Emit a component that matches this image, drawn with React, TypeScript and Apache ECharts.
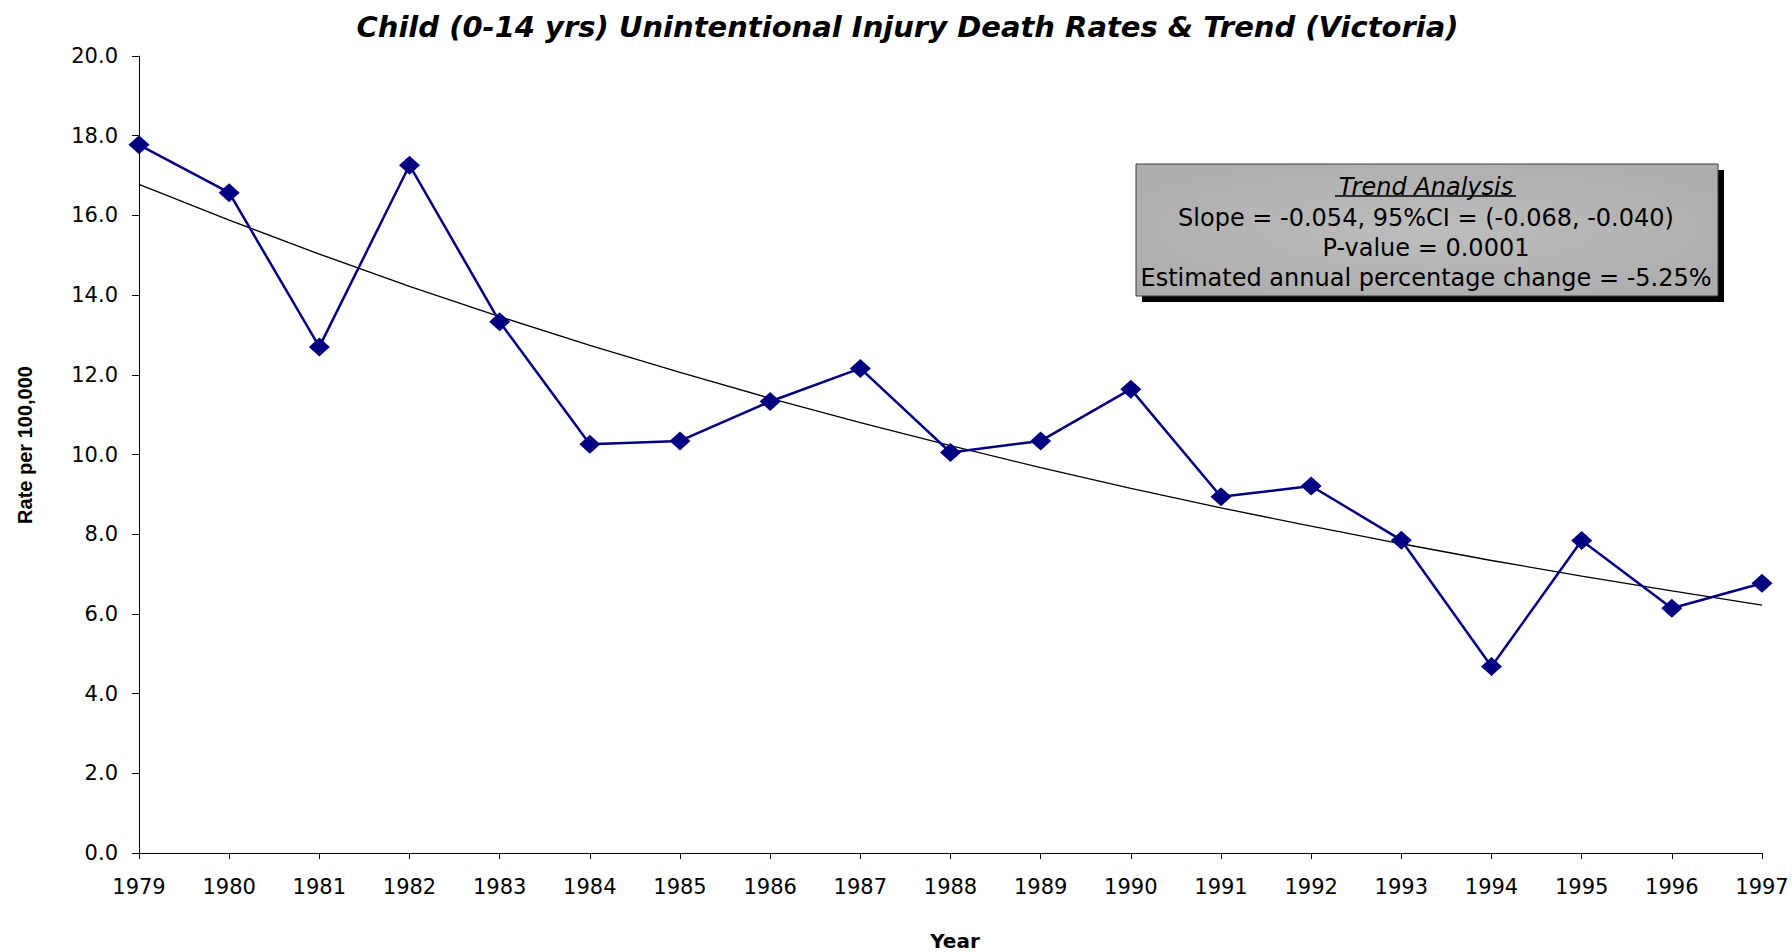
import React, { useEffect, useRef } from "react";
import * as echarts from "echarts";

const years = [1979, 1980, 1981, 1982, 1983, 1984, 1985, 1986, 1987, 1988, 1989, 1990, 1991, 1992, 1993, 1994, 1995, 1996, 1997];
const rates = [17.77, 16.57, 12.70, 17.26, 13.33, 10.26, 10.34, 11.33, 12.16, 10.05, 10.34, 11.64, 8.94, 9.21, 7.85, 4.68, 7.84, 6.14, 6.77];
const trend = [16.78, 15.88, 15.03, 14.22, 13.46, 12.74, 12.06, 11.41, 10.80, 10.22, 9.67, 9.15, 8.66, 8.20, 7.76, 7.34, 6.95, 6.58, 6.22];
const yTicks = { min: 0, max: 20, interval: 2 };
const titleText = "Child (0-14 yrs) Unintentional Injury Death Rates & Trend (Victoria)";
const boxLines = [
  "Slope = -0.054, 95%CI = (-0.068, -0.040)",
  "P-value = 0.0001",
  "Estimated annual percentage change = -5.25%",
];
const boxHeading = "Trend Analysis";
const yName = "Rate per 100,000";
const xName = "Year";

export default function App() {
  const ref = useRef<HTMLDivElement>(null);
  useEffect(() => {
    if (!ref.current) return;
    const chart = echarts.init(ref.current, null, { renderer: "svg" });
    const ff = "DejaVu Sans";
    const boxX = 1136, boxY = 164, boxW = 582, boxH = 132;
    const boxCx = boxX + boxW / 2;
    chart.setOption({
      animation: false,
      backgroundColor: "#ffffff",
      grid: { left: 139, right: 30, top: 56, bottom: 99, containLabel: false },
      xAxis: {
        type: "value",
        min: 1979,
        max: 1997,
        interval: 1,
        axisLine: { lineStyle: { color: "#000", width: 1 } },
        axisTick: { show: true, length: 6, lineStyle: { color: "#000" } },
        axisLabel: { color: "#000", fontFamily: ff, fontSize: 21, margin: 23, formatter: (v: number) => String(v) },
        splitLine: { show: false },
      },
      yAxis: {
        type: "value",
        min: yTicks.min,
        max: yTicks.max,
        interval: yTicks.interval,
        axisLine: { show: true, lineStyle: { color: "#000", width: 1 } },
        axisTick: { show: true, length: 7, lineStyle: { color: "#000" } },
        axisLabel: { color: "#000", fontFamily: ff, fontSize: 21, margin: 21, formatter: (v: number) => v.toFixed(1) },
        splitLine: { show: false },
      },
      series: [
        {
          name: "Trend",
          type: "line",
          data: years.map((y, i) => [y, trend[i]]),
          showSymbol: false,
          symbol: "none",
          lineStyle: { color: "#000", width: 1.3 },
          z: 2,
        },
        {
          name: "Rate",
          type: "line",
          data: years.map((y, i) => [y, rates[i]]),
          symbol: "diamond",
          symbolSize: [21, 19],
          itemStyle: { color: "#000080" },
          lineStyle: { color: "#000080", width: 2.5 },
          z: 3,
        },
      ],
      graphic: [
        {
          type: "text",
          x: 907.5,
          y: 26.7,
          style: {
            text: titleText,
            fontFamily: ff,
            fontSize: 29,
            fontWeight: "bold",
            fontStyle: "italic",
            fill: "#000",
            align: "center",
            verticalAlign: "middle",
          },
        },
        {
          type: "text",
          x: 25,
          y: 445,
          rotation: Math.PI / 2,
          style: {
            text: yName,
            fontFamily: "Liberation Sans",
            fontSize: 20,
            fontWeight: "bold",
            fill: "#000",
            align: "center",
            verticalAlign: "middle",
          },
        },
        {
          type: "text",
          x: 955,
          y: 940.7,
          style: {
            text: xName,
            fontFamily: ff,
            fontSize: 20,
            fontWeight: "bold",
            fill: "#000",
            align: "center",
            verticalAlign: "middle",
          },
        },
        {
          type: "rect",
          shape: { x: boxX + 6, y: boxY + 6, width: boxW, height: boxH },
          style: { fill: "#000" },
          z: 10,
        },
        {
          type: "rect",
          shape: { x: boxX, y: boxY, width: boxW, height: boxH },
          style: {
            fill: {
              type: "radial",
              x: 0.5,
              y: 0.5,
              r: 0.6,
              colorStops: [
                { offset: 0, color: "#bdbdbd" },
                { offset: 1, color: "#adadad" },
              ],
            },
            stroke: "#3a3a3a",
            lineWidth: 1,
          },
          z: 11,
        },
        {
          type: "text",
          x: boxCx - 1,
          y: 187,
          z: 12,
          style: {
            text: boxHeading,
            fontFamily: ff,
            fontSize: 24,
            fontStyle: "italic",
            fill: "#000",
            align: "center",
            verticalAlign: "middle",
          },
        },
        {
          type: "line",
          z: 12,
          shape: { x1: 1335, y1: 196, x2: 1516, y2: 196 },
          style: { stroke: "#000", lineWidth: 1.5 },
        },
        ...boxLines.map((t, i) => ({
          type: "text",
          x: boxCx - 1,
          y: 218 + i * 30,
          z: 12,
          style: {
            text: t,
            fontFamily: ff,
            fontSize: 24,
            fill: "#000",
            align: "center",
            verticalAlign: "middle",
          },
        })),
      ],
    });
    return () => chart.dispose();
  }, []);
  return <div ref={ref} style={{ position: "fixed", left: 0, top: 0, width: 1792, height: 952 }} />;
}
